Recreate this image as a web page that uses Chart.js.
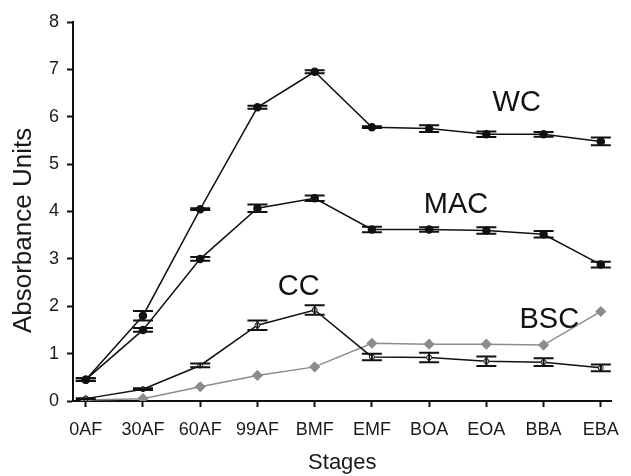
<!DOCTYPE html>
<html>
<head>
<meta charset="utf-8">
<script src="https://cdn.jsdelivr.net/npm/chart.js@4.4.1/dist/chart.umd.min.js"></script>
<style>
  html, body { margin: 0; padding: 0; background: #fff; }
  #wrap { width: 631px; height: 476px; }
</style>
</head>
<body>
<div id="wrap"><canvas id="stages-chart" width="631" height="476"></canvas></div>
<script>
  const stages = ['0AF', '30AF', '60AF', '99AF', 'BMF', 'EMF', 'BOA', 'EOA', 'BBA', 'EBA'];
  const yTicks = [0, 1, 2, 3, 4, 5, 6, 7, 8];

  const wcValues = [0.45, 1.80, 4.05, 6.20, 6.95, 5.78, 5.75, 5.63, 5.63, 5.48];
  const wcErrors = [0.03, 0.10, 0.02, 0.03, 0.03, 0.02, 0.07, 0.06, 0.05, 0.08];

  const macValues = [0.45, 1.50, 3.00, 4.07, 4.28, 3.62, 3.62, 3.60, 3.52, 2.88];
  const macErrors = [0.03, 0.04, 0.04, 0.08, 0.06, 0.06, 0.05, 0.07, 0.07, 0.06];

  const ccValues = [0.05, 0.25, 0.75, 1.60, 1.92, 0.93, 0.92, 0.84, 0.82, 0.70];
  const ccErrors = [0.01, 0.02, 0.04, 0.10, 0.10, 0.07, 0.10, 0.10, 0.08, 0.07];

  const bscValues = [0.02, 0.05, 0.30, 0.54, 0.72, 1.22, 1.20, 1.20, 1.18, 1.89];
  const bscErrors = [0, 0, 0, 0, 0, 0, 0, 0, 0, 0];

  const FONT = "'Liberation Sans', Arial, Helvetica, sans-serif";

  function toPoints(values) {
    return values.map(function (v, i) { return { x: i, y: v }; });
  }

  // error bars drawn with the chart scales
  const errorBars = {
    id: 'errorBars',
    afterDatasetsDraw: function (chart) {
      const ctx = chart.ctx;
      const xs = chart.scales.x;
      const ys = chart.scales.y;
      ctx.save();
      chart.data.datasets.forEach(function (ds) {
        if (!ds.errors) return;
        ctx.strokeStyle = ds.borderColor;
        ctx.lineWidth = 2;
        ds.data.forEach(function (p, i) {
          const e = ds.errors[i];
          if (!e) return;
          const px = xs.getPixelForValue(p.x);
          const top = ys.getPixelForValue(p.y + e);
          const bot = ys.getPixelForValue(p.y - e);
          ctx.beginPath();
          ctx.moveTo(px, top); ctx.lineTo(px, bot);
          ctx.moveTo(px - 10, top); ctx.lineTo(px + 10, top);
          ctx.moveTo(px - 10, bot); ctx.lineTo(px + 10, bot);
          ctx.stroke();
        });
      });
      ctx.restore();
    }
  };

  // series names inside the plot + the y axis title (sits a bit below centre)
  const seriesNames = {
    id: 'seriesNames',
    afterDraw: function (chart) {
      const ctx = chart.ctx;
      const xs = chart.scales.x;
      const ys = chart.scales.y;
      const names = [['WC', 7.53, 6.29], ['MAC', 6.47, 4.13], ['CC', 3.72, 2.40], ['BSC', 8.1, 1.71]];
      ctx.save();
      ctx.fillStyle = '#111';
      ctx.font = '29px ' + FONT;
      ctx.textAlign = 'center';
      ctx.textBaseline = 'middle';
      names.forEach(function (n) {
        ctx.fillText(n[0], xs.getPixelForValue(n[1]), ys.getPixelForValue(n[2]));
      });

      ctx.fillStyle = '#1a1a1a';
      ctx.font = '26px ' + FONT;
      ctx.translate(ys.left + 24, ys.getPixelForValue(3.6));
      ctx.rotate(-Math.PI / 2);
      ctx.fillText('Absorbance Units', 0, 0);
      ctx.restore();
    }
  };

  const ctx = document.getElementById('stages-chart');

  new Chart(ctx, {
    type: 'line',
    data: {
      datasets: [{
        label: 'WC',
        data: toPoints(wcValues),
        errors: wcErrors,
        borderColor: '#111',
        backgroundColor: '#111',
        borderWidth: 1.5,
        pointRadius: 3.5,
        pointStyle: 'circle'
      }, {
        label: 'MAC',
        data: toPoints(macValues),
        errors: macErrors,
        borderColor: '#111',
        backgroundColor: '#111',
        borderWidth: 1.5,
        pointRadius: 3.5,
        pointStyle: 'circle'
      }, {
        label: 'CC',
        data: toPoints(ccValues),
        errors: ccErrors,
        borderColor: '#111',
        backgroundColor: '#fff',
        borderWidth: 1.5,
        pointRadius: 2.5,
        pointBorderWidth: 1,
        pointStyle: 'circle'
      }, {
        label: 'BSC',
        data: toPoints(bscValues),
        errors: bscErrors,
        borderColor: '#8c8c8c',
        backgroundColor: '#8c8c8c',
        borderWidth: 1.5,
        pointRadius: 4.5,
        pointStyle: 'rectRot'
      }]
    },
    options: {
      responsive: false,
      animation: false,
      events: [],
      layout: { padding: { left: 0, top: 22, right: 9, bottom: 0 } },
      scales: {
        x: {
          type: 'linear',
          min: -0.223,
          max: 9.19,
          afterFit: function (scale) { scale.height = 75; },
          afterBuildTicks: function (scale) {
            scale.ticks = stages.map(function (s, i) { return { value: i }; });
          },
          ticks: {
            autoSkip: false,
            maxRotation: 0,
            padding: 12,
            color: '#1a1a1a',
            font: { family: FONT, size: 18 },
            callback: function (v) { return stages[v]; }
          },
          grid: { display: true, drawOnChartArea: false, drawTicks: true, tickLength: 6, tickWidth: 2, tickColor: '#111' },
          border: { display: true, color: '#111', width: 2 },
          title: { display: true, text: 'Stages', color: '#1a1a1a', font: { family: FONT, size: 22 }, padding: { top: 0, bottom: 0 } }
        },
        y: {
          type: 'linear',
          min: 0,
          max: 8,
          afterFit: function (scale) { scale.width = 73; },
          afterBuildTicks: function (scale) {
            scale.ticks = yTicks.map(function (v) { return { value: v }; });
          },
          ticks: {
            padding: 8,
            color: '#1a1a1a',
            font: { family: FONT, size: 18 }
          },
          grid: { display: true, drawOnChartArea: false, drawTicks: true, tickLength: 6, tickWidth: 2, tickColor: '#111' },
          border: { display: true, color: '#111', width: 2 },
          title: { display: false }
        }
      },
      plugins: {
        legend: { display: false },
        tooltip: { enabled: false }
      }
    },
    plugins: [errorBars, seriesNames]
  });
</script>
</body>
</html>
